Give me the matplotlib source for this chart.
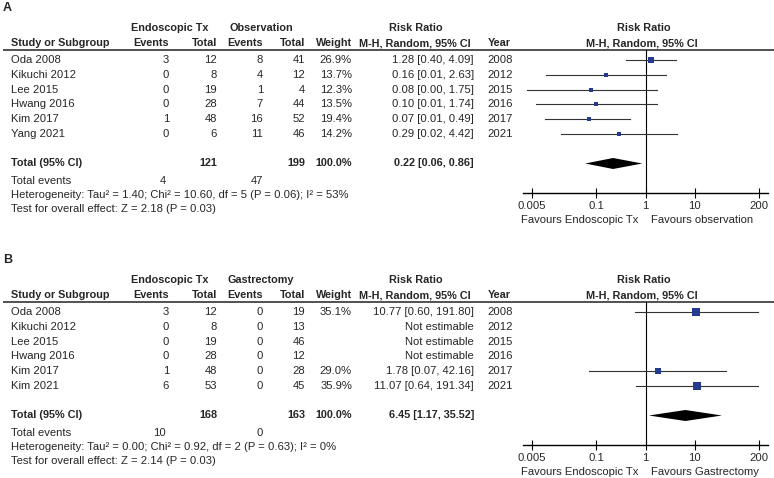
import matplotlib
matplotlib.use("Agg")
import matplotlib.pyplot as plt

plt.rcParams['font.family'] = ['Liberation Sans', 'DejaVu Sans']

# Panel A: endoscopic treatment vs observation
studies_a = ["Oda 2008", "Kikuchi 2012", "Lee 2015", "Hwang 2016", "Kim 2017", "Yang 2021"]
years_a = [2008, 2012, 2015, 2016, 2017, 2021]
endo_events_a = [3, 0, 0, 0, 1, 0]
endo_total_a = [12, 8, 19, 28, 48, 6]
ctrl_events_a = [8, 4, 1, 7, 16, 11]
ctrl_total_a = [41, 12, 4, 44, 52, 46]
weight_a = [26.9, 13.7, 12.3, 13.5, 19.4, 14.2]
rr_a = [1.28, 0.16, 0.08, 0.10, 0.07, 0.29]
lo_a = [0.40, 0.0098, 0.004, 0.0061, 0.0093, 0.019]
hi_a = [4.09, 2.63, 1.75, 1.74, 0.49, 4.42]
pooled_a = [0.22, 0.06, 0.86]
sums_a = [121, 199, 4, 47]
het_a = "Heterogeneity: Tau\u00b2 = 1.40; Chi\u00b2 = 10.60, df = 5 (P = 0.06); I\u00b2 = 53%"
test_a = "Test for overall effect: Z = 2.18 (P = 0.03)"

# Panel B: endoscopic treatment vs gastrectomy
studies_b = ["Oda 2008", "Kikuchi 2012", "Lee 2015", "Hwang 2016", "Kim 2017", "Kim 2021"]
years_b = [2008, 2012, 2015, 2016, 2017, 2021]
endo_events_b = [3, 0, 0, 0, 1, 6]
endo_total_b = [12, 8, 19, 28, 48, 53]
ctrl_events_b = [0, 0, 0, 0, 0, 0]
ctrl_total_b = [19, 13, 46, 12, 28, 45]
weight_b = [35.1, None, None, None, 29.0, 35.9]
rr_b = [10.77, None, None, None, 1.78, 11.07]
lo_b = [0.60, None, None, None, 0.07, 0.64]
hi_b = [191.80, None, None, None, 42.16, 191.34]
pooled_b = [6.45, 1.17, 35.52]
sums_b = [168, 163, 10, 0]
het_b = "Heterogeneity: Tau\u00b2 = 0.00; Chi\u00b2 = 0.92, df = 2 (P = 0.63); I\u00b2 = 0%"
test_b = "Test for overall effect: Z = 2.14 (P = 0.03)"

W, H = 774, 478
FS = 8.1
FSB = 7.8
TXT = '#262626'
BLUE = '#243a8f'

fig = plt.figure(figsize=(W / 100, H / 100), dpi=100)
ax = fig.add_axes([0, 0, 1, 1])
ax.set_xlim(0, W)
ax.set_ylim(H, 0)
ax.axis('off')


def t(x, y, s, ha='left', bold=False, size=None):
    if size is None:
        size = FSB if bold else FS
    ax.text(x, y, s, ha=ha, va='center', fontsize=size, color=TXT,
            fontweight='bold' if bold else 'normal')


def fmt_ci(r, lo, hi):
    if r is None:
        return "Not estimable"
    return f"{r:.2f} [{lo:.2f}, {hi:.2f}]"


def draw_panel(off, label, ctrl_name, fav_right, studies, years, ee, et, ce, ct,
               wt, rr, lo, hi, pooled, sums, het, test):
    row0, step = 60.3, 14.7
    t(3, 8 + off, label, bold=True, size=9)
    # header
    t(170, 28 + off, "Endoscopic Tx", ha='center', bold=True)
    t(261, 28 + off, ctrl_name, ha='center', bold=True)
    t(416, 28 + off, "Risk Ratio", ha='center', bold=True)
    t(644, 28 + off, "Risk Ratio", ha='center', bold=True)
    t(11, 43 + off, "Study or Subgroup", bold=True)
    t(169, 43 + off, "Events", ha='right', bold=True)
    t(217, 43 + off, "Total", ha='right', bold=True)
    t(263, 43 + off, "Events", ha='right', bold=True)
    t(305, 43 + off, "Total", ha='right', bold=True)
    t(352, 43 + off, "Weight", ha='right', bold=True)
    t(471, 43 + off, "M-H, Random, 95% CI", ha='right', bold=True)
    t(488, 43 + off, "Year", bold=True)
    t(642, 43 + off, "M-H, Random, 95% CI", ha='center', bold=True)
    ax.hlines(49.5 + off, 3, W, color='#333333', lw=1.2)

    for i, name in enumerate(studies):
        y = row0 + i * step + off
        t(11, y, name)
        t(169, y, str(ee[i]), ha='right')
        t(217, y, str(et[i]), ha='right')
        t(263, y, str(ce[i]), ha='right')
        t(305, y, str(ct[i]), ha='right')
        if wt[i] is not None:
            t(352, y, f"{wt[i]:.1f}%", ha='right')
        t(474, y, fmt_ci(rr[i], lo[i], hi[i]), ha='right')
        t(487, y, str(years[i]))

    ytot = 163.5
    t(11, ytot + off, "Total (95% CI)", bold=True)
    t(217, ytot + off, str(sums[0]), ha='right', bold=True)
    t(305, ytot + off, str(sums[1]), ha='right', bold=True)
    t(352, ytot + off, "100.0%", ha='right', bold=True)
    t(474, ytot + off, fmt_ci(*pooled), ha='right', bold=True)
    t(11, 181.5 + off, "Total events")
    t(166, 181.5 + off, str(sums[2]), ha='right')
    t(263, 181.5 + off, str(sums[3]), ha='right')
    t(11, 195.5 + off, het)
    t(11, 209.5 + off, test)

    # forest plot
    top, bot = 49.5, 193
    fx = fig.add_axes([523 / W, 1 - (bot + off) / H, 245 / W, (bot - top) / H])
    fx.set_xscale('log')
    fx.set_xlim(10 ** -2.484, 10 ** 2.484)
    fx.set_ylim(bot, top)
    fx.patch.set_alpha(0)
    for s in ['top', 'left', 'right']:
        fx.spines[s].set_visible(False)
    fx.spines['bottom'].set_linewidth(1.0)
    fx.set_yticks([])
    fx.set_xticks([0.005, 0.1, 1, 10, 200])
    fx.set_xticklabels(['0.005', '0.1', '1', '10', '200'])
    fx.minorticks_off()
    fx.tick_params(axis='x', direction='inout', length=7, width=0.8,
                   pad=2, labelsize=FS, labelcolor=TXT)
    fx.axvline(1, color='black', lw=0.8)
    for i in range(len(studies)):
        if rr[i] is None:
            continue
        y = row0 + i * step
        fx.plot([lo[i], hi[i]], [y, y], color='#333333', lw=0.8)
        side = 1.5 + 0.16 * wt[i]
        fx.plot(rr[i], y, marker='s', ms=side * 0.72, color=BLUE, mec=BLUE, mew=0)
    p, pl, ph = pooled
    fx.fill([pl, p, ph, p], [ytot, ytot - 5.5, ytot, ytot + 5.5], color='black', lw=0)

    t(638, 220 + off, "Favours Endoscopic Tx", ha='right')
    t(651, 220 + off, fav_right)


draw_panel(0, "A", "Observation", "Favours observation", studies_a, years_a,
           endo_events_a, endo_total_a, ctrl_events_a, ctrl_total_a, weight_a,
           rr_a, lo_a, hi_a, pooled_a, sums_a, het_a, test_a)
draw_panel(252, "B", "Gastrectomy", "Favours Gastrectomy", studies_b, years_b,
           endo_events_b, endo_total_b, ctrl_events_b, ctrl_total_b, weight_b,
           rr_b, lo_b, hi_b, pooled_b, sums_b, het_b, test_b)

fig.savefig("out.png", dpi=100)
